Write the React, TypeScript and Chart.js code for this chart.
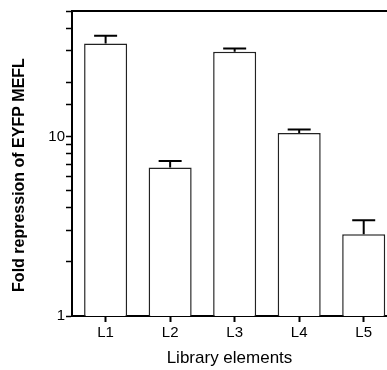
import React, { useEffect, useRef } from "react";
import { Chart, registerables } from "chart.js";

Chart.register(...registerables);

const categories = ["L1", "L2", "L3", "L4", "L5"];
const values = [33.0, 6.72, 29.6, 10.46, 2.85];
const errors = [3.4, 0.57, 1.3, 0.46, 0.57];
const yMajorLabels = [1, 10];
const yMin = 1;
const yMax = 50;
const xTitle = "Library elements";
const yTitle = "Fold repression of EYFP MEFL";

const FONT = '"Liberation Sans", Arial, Helvetica, sans-serif';

const errorBarPlugin = {
  id: "errorBars",
  afterDatasetsDraw(chart: any) {
    const { ctx } = chart;
    const meta = chart.getDatasetMeta(0);
    const yScale = chart.scales.y;
    ctx.save();
    ctx.strokeStyle = "#000";
    ctx.lineWidth = 2;
    meta.data.forEach((bar: any, i: number) => {
      const x = bar.x;
      const top = bar.y;
      const yErr = yScale.getPixelForValue(values[i] + errors[i]);
      const half = 11.5;
      ctx.beginPath();
      ctx.moveTo(x, top);
      ctx.lineTo(x, yErr);
      ctx.moveTo(x - half, yErr);
      ctx.lineTo(x + half, yErr);
      ctx.stroke();
    });
    ctx.restore();
  },
};

const yTitlePlugin = {
  id: "yTitleCustom",
  afterDraw(chart: any) {
    const { ctx, chartArea } = chart;
    ctx.save();
    ctx.translate(19.5, (chartArea.top + chartArea.bottom) / 2 + 11.5);
    ctx.rotate(-Math.PI / 2);
    ctx.font = `bold 16px ${FONT}`;
    ctx.textAlign = "center";
    ctx.textBaseline = "middle";
    ctx.fillStyle = "#000";
    ctx.fillText(yTitle, 0, 0);
    ctx.restore();
  },
};

export default function App() {
  const ref = useRef<HTMLCanvasElement | null>(null);

  useEffect(() => {
    if (!ref.current) return;
    const chart = new Chart(ref.current, {
      type: "bar",
      data: {
        datasets: [
          {
            data: categories.map((_, i) => ({ x: i + 1, y: values[i] })),
            backgroundColor: "#ffffff",
            borderColor: "#222",
            borderWidth: 1.5,
            categoryPercentage: 1,
            barPercentage: 0.667,
          },
        ],
      },
      plugins: [errorBarPlugin, yTitlePlugin],
      options: {
        responsive: false,
        animation: false,
        events: [],
        layout: { padding: { top: 11, left: 0, right: 0, bottom: 0 } },
        plugins: {
          legend: { display: false },
          tooltip: { enabled: false },
        },
        scales: {
          x: {
            type: "linear",
            position: "bottom",
            offset: false,
            min: 0.479,
            max: 5.361,
            afterBuildTicks: (scale: any) => {
              scale.ticks = categories.map((_, i) => ({ value: i + 1 }));
            },
            afterFit: (scale: any) => {
              scale.height = 54;
            },
            grid: {
              offset: false,
              drawOnChartArea: false,
              drawTicks: true,
              tickLength: 6,
              tickColor: "#000",
              tickWidth: 2,
            },
            border: { display: true, color: "#000", width: 2 },
            ticks: {
              autoSkip: false,
              maxRotation: 0,
              padding: 2,
              color: "#000",
              font: { family: FONT, size: 15 },
              callback: (v: any) => categories[Math.round(Number(v)) - 1] ?? "",
            },
            title: {
              display: true,
              text: xTitle,
              color: "#000",
              font: { family: FONT, size: 17 },
              padding: { top: 0, bottom: 1 },
            },
          },
          x2: {
            type: "linear",
            position: "top",
            offset: false,
            min: 0,
            max: 1,
            grid: { display: false, drawTicks: false },
            ticks: { display: false },
            border: { display: true, color: "#000", width: 2 },
          },
          y: {
            type: "logarithmic",
            min: yMin,
            max: yMax,
            afterFit: (scale: any) => {
              scale.width = 72;
            },
            grid: {
              drawOnChartArea: false,
              drawTicks: true,
              tickLength: 6,
              tickColor: "#000",
              tickWidth: 1.5,
            },
            border: { display: true, color: "#000", width: 2 },
            ticks: {
              autoSkip: false,
              padding: 1,
              color: "#000",
              font: { family: FONT, size: 15 },
              callback: (v: any) =>
                yMajorLabels.includes(Number(v)) ? String(v) : "",
            },
          },
        },
      },
    } as any);
    return () => chart.destroy();
  }, []);

  return (
    <div
      style={{
        position: "absolute",
        left: 0,
        top: 0,
        width: 387,
        height: 370,
        background: "#fff",
      }}
    >
      <canvas ref={ref} width={387} height={370} />
    </div>
  );
}
